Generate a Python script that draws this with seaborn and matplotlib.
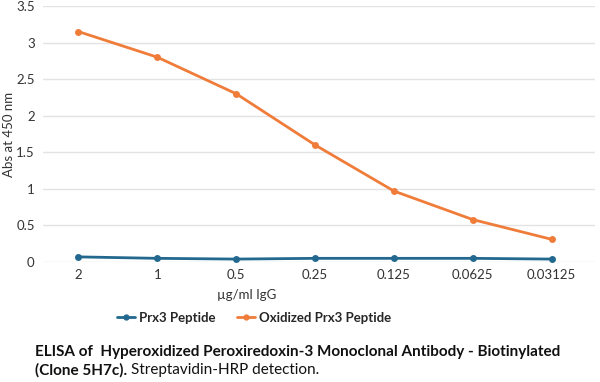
import matplotlib
matplotlib.use("Agg")
import matplotlib.pyplot as plt
import seaborn as sns
import pandas as pd

concentrations = ["2", "1", "0.5", "0.25", "0.125", "0.0625", "0.03125"]
prx3 = [0.07, 0.05, 0.04, 0.05, 0.05, 0.05, 0.04]
oxidized = [3.15, 2.80, 2.30, 1.60, 0.97, 0.58, 0.31]
series_names = ["Prx3 Peptide", "Oxidized Prx3 Peptide"]
yticks = [0, 0.5, 1, 1.5, 2, 2.5, 3, 3.5]

sns.set_theme(style="white")
plt.rcParams['font.family'] = ['Lato', 'DejaVu Sans']

df = pd.DataFrame({
    "conc": concentrations * 2,
    "idx": list(range(len(concentrations))) * 2,
    "value": prx3 + oxidized,
    "series": [series_names[0]] * len(prx3) + [series_names[1]] * len(oxidized),
})

fig = plt.figure(figsize=(6, 3.82), dpi=100)
ax = fig.add_axes([43/600, 1-262/382, 552/600, 256/382])
palette = {series_names[0]: "#23688F", series_names[1]: "#F07C3A"}
sns.lineplot(data=df, x="idx", y="value", hue="series", palette=palette,
             marker="o", markersize=5, markeredgewidth=0, linewidth=2,
             ax=ax, legend=False)

ax.set_xlim(-0.45, 6.55)
ax.set_ylim(0, 3.5)
ax.set_yticks(yticks)
ax.set_yticklabels([f"{t:g}" for t in yticks], fontsize=9.5, color="#333333")
ax.set_xticks(range(len(concentrations)))
ax.set_xticklabels(concentrations, fontsize=9.5, color="#333333")
ax.tick_params(axis="y", length=0, pad=6)
ax.tick_params(axis="x", length=0, pad=5)
ax.grid(axis="y", color="#e3e3e3", linewidth=1)
for s in ax.spines.values():
    s.set_visible(False)
ax.set_xlabel("")
ax.set_ylabel("")
fig.text(9/600, 1-134/382, "Abs at 450 nm", rotation=90, ha="center", va="center",
         fontsize=9.5, color="#333333")

fig.text(247/600, 1-295/382, "µg/ml IgG", ha="center", va="center", fontsize=9.5, color="#333333")

from matplotlib.lines import Line2D
handles = [Line2D([], [], color=palette[n], marker="o", markersize=3.5, linewidth=2) for n in series_names]
fig.legend(handles, series_names, loc="center", bbox_to_anchor=(254/600, 1-318/382),
           ncol=2, frameon=False, handlelength=1.4, handletextpad=0.3,
           columnspacing=1.6, prop={"weight": "bold", "size": 9.5})

fig.text(35/600, 1-352/382, "ELISA of  Hyperoxidized Peroxiredoxin-3 Monoclonal Antibody - Biotinylated",
         ha="left", va="center", fontsize=11, fontweight="bold", color="#111111")
t1 = fig.text(35/600, 1-370/382, "(Clone 5H7c).", ha="left", va="center", fontsize=11,
              fontweight="bold", color="#111111")
fig.canvas.draw()
bb = t1.get_window_extent()
fig.text(bb.x1/600 + 4/600, 1-370/382, "Streptavidin-HRP detection.", ha="left", va="center",
         fontsize=11, color="#111111")

fig.savefig("out.png", dpi=100)
